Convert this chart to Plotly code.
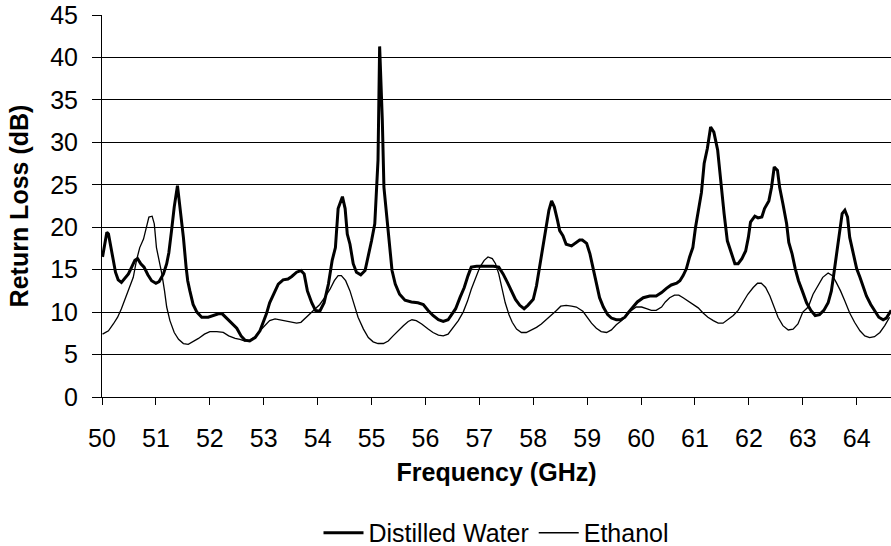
import plotly.graph_objects as go

# Return loss of the sensor loaded with distilled water (frequency in GHz, loss in dB)
water_freq = [
    50.01, 50.09, 50.12, 50.17, 50.21, 50.25, 50.30, 50.36, 50.43, 50.49, 50.55, 50.61,
    50.66, 50.72, 50.78, 50.85, 50.92, 51.00, 51.06, 51.14, 51.20, 51.24, 51.29, 51.34,
    51.40, 51.45, 51.51, 51.56, 51.59, 51.63, 51.69, 51.76, 51.85, 51.97, 52.06, 52.16,
    52.23, 52.31, 52.40, 52.50, 52.58, 52.65, 52.74, 52.84, 52.93, 52.99, 53.05, 53.11,
    53.19, 53.27, 53.36, 53.45, 53.52, 53.61, 53.69, 53.75, 53.81, 53.89, 53.96, 54.04,
    54.12, 54.20, 54.27, 54.33, 54.38, 54.46, 54.51, 54.55, 54.60, 54.66, 54.72, 54.80,
    54.88, 54.94, 55.00, 55.06, 55.09, 55.12, 55.15, 55.20, 55.23, 55.28, 55.34, 55.38,
    55.44, 55.52, 55.62, 55.74, 55.86, 55.96, 56.05, 56.14, 56.24, 56.33, 56.42, 56.48,
    56.56, 56.64, 56.72, 56.79, 56.85, 56.95, 57.10, 57.26, 57.36, 57.44, 57.52, 57.60,
    57.67, 57.75, 57.83, 57.90, 58.00, 58.06, 58.12, 58.18, 58.24, 58.29, 58.34, 58.39,
    58.45, 58.49, 58.55, 58.61, 58.71, 58.77, 58.86, 58.91, 58.99, 59.05, 59.11, 59.17,
    59.23, 59.30, 59.38, 59.45, 59.54, 59.62, 59.70, 59.77, 59.85, 59.93, 60.04, 60.16,
    60.28, 60.38, 60.47, 60.56, 60.66, 60.72, 60.78, 60.84, 60.90, 60.96, 61.01, 61.06,
    61.12, 61.17, 61.23, 61.29, 61.35, 61.42, 61.48, 61.54, 61.60, 61.68, 61.74, 61.80,
    61.87, 61.94, 61.99, 62.03, 62.11, 62.17, 62.24, 62.29, 62.37, 62.42, 62.47, 62.53,
    62.57, 62.63, 62.70, 62.74, 62.80, 62.86, 62.92, 62.99, 63.07, 63.15, 63.23, 63.31,
    63.39, 63.47, 63.53, 63.58, 63.62, 63.68, 63.73, 63.78, 63.83, 63.87, 63.93, 64.00,
    64.06, 64.12, 64.18, 64.26, 64.33, 64.41, 64.49, 64.55, 64.64,
]
water_loss = [
    16.5, 19.4, 19.2, 17.2, 16.1, 14.7, 13.8, 13.5, 14.1, 14.5, 15.3, 16.1,
    16.3, 15.7, 15.3, 14.4, 13.7, 13.4, 13.6, 14.5, 15.7, 17.0, 19.6, 22.4,
    24.9, 22.4, 18.8, 15.3, 13.7, 12.5, 10.9, 10.0, 9.4, 9.4, 9.6, 9.8,
    9.8, 9.3, 8.8, 8.1, 7.2, 6.7, 6.6, 7.0, 7.8, 8.7, 9.8, 11.1,
    12.3, 13.3, 13.8, 13.9, 14.2, 14.7, 14.9, 14.5, 12.5, 11.1, 10.2, 10.1,
    11.1, 13.3, 16.1, 17.6, 22.2, 23.6, 22.2, 19.2, 18.0, 15.7, 14.7, 14.4,
    14.9, 16.5, 18.4, 20.4, 23.5, 27.9, 41.3, 32.6, 24.7, 21.2, 17.6, 14.9,
    13.3, 12.1, 11.4, 11.2, 11.1, 10.9, 10.2, 9.6, 9.1, 8.9, 9.1, 9.6,
    10.4, 11.7, 12.9, 14.3, 15.3, 15.4, 15.4, 15.4, 15.3, 14.5, 13.5, 12.5,
    11.5, 10.8, 10.4, 10.8, 11.5, 13.1, 15.3, 17.6, 19.8, 22.0, 23.1, 22.4,
    20.8, 19.6, 19.0, 18.0, 17.8, 18.1, 18.5, 18.5, 18.1, 16.9, 15.1, 13.3,
    11.7, 10.6, 9.7, 9.3, 9.1, 9.1, 9.4, 10.0, 10.6, 11.2, 11.7, 11.9,
    11.9, 12.3, 12.8, 13.2, 13.4, 13.7, 14.3, 15.1, 16.5, 17.6, 20.0, 21.8,
    24.1, 27.5, 29.3, 31.8, 31.2, 29.1, 24.9, 21.6, 18.4, 16.9, 15.7, 15.7,
    16.3, 17.2, 18.8, 20.6, 21.3, 21.1, 21.2, 22.2, 23.1, 24.7, 27.1, 26.7,
    24.7, 22.8, 20.4, 18.2, 16.9, 15.1, 13.7, 12.5, 11.1, 10.2, 9.6, 9.7,
    10.2, 11.1, 12.5, 14.7, 16.5, 18.8, 21.6, 22.0, 21.2, 18.8, 17.2, 15.1,
    14.1, 12.9, 11.9, 10.9, 10.2, 9.4, 9.1, 9.3, 10.2,
]

# Return loss of the sensor loaded with ethanol
ethanol_freq = [
    50.01, 50.12, 50.21, 50.29, 50.36, 50.44, 50.52, 50.58, 50.64, 50.70, 50.77, 50.83,
    50.87, 50.93, 50.97, 51.01, 51.06, 51.11, 51.16, 51.20, 51.26, 51.34, 51.42, 51.51,
    51.60, 51.69, 51.79, 51.90, 52.00, 52.13, 52.25, 52.35, 52.47, 52.56, 52.65, 52.74,
    52.84, 52.93, 53.02, 53.11, 53.21, 53.30, 53.39, 53.49, 53.61, 53.69, 53.76, 53.86,
    53.95, 54.04, 54.13, 54.23, 54.31, 54.38, 54.44, 54.52, 54.60, 54.68, 54.75, 54.85,
    54.94, 55.03, 55.12, 55.22, 55.31, 55.40, 55.49, 55.59, 55.68, 55.75, 55.83, 55.93,
    56.05, 56.14, 56.24, 56.33, 56.42, 56.51, 56.61, 56.70, 56.78, 56.85, 56.93, 57.01,
    57.09, 57.16, 57.24, 57.30, 57.36, 57.42, 57.48, 57.55, 57.61, 57.69, 57.78, 57.87,
    57.97, 58.06, 58.15, 58.24, 58.34, 58.43, 58.51, 58.61, 58.71, 58.80, 58.92, 59.00,
    59.08, 59.17, 59.26, 59.36, 59.45, 59.54, 59.64, 59.73, 59.82, 59.91, 60.01, 60.10,
    60.19, 60.28, 60.38, 60.45, 60.53, 60.62, 60.70, 60.78, 60.87, 60.96, 61.06, 61.15,
    61.24, 61.34, 61.43, 61.52, 61.61, 61.71, 61.80, 61.89, 61.98, 62.08, 62.16, 62.23,
    62.31, 62.39, 62.47, 62.54, 62.63, 62.73, 62.82, 62.91, 63.00, 63.10, 63.19, 63.28,
    63.37, 63.47, 63.55, 63.62, 63.70, 63.78, 63.87, 63.96, 64.06, 64.15, 64.24, 64.33,
    64.43, 64.52, 64.61,
]
ethanol_loss = [
    7.4, 7.8, 8.6, 9.4, 10.4, 11.7, 12.9, 14.1, 16.1, 17.6, 18.6, 20.0,
    21.2, 21.3, 20.4, 17.6, 16.1, 14.5, 12.5, 10.6, 9.0, 7.6, 6.8, 6.3,
    6.2, 6.5, 6.9, 7.4, 7.7, 7.7, 7.6, 7.2, 6.9, 6.8, 6.6, 6.7,
    7.1, 7.8, 8.4, 9.0, 9.2, 9.1, 9.0, 8.8, 8.7, 8.8, 9.2, 9.8,
    10.4, 10.9, 11.7, 12.7, 13.7, 14.3, 14.3, 13.7, 12.5, 10.7, 9.4, 8.0,
    7.0, 6.5, 6.3, 6.3, 6.6, 7.2, 7.8, 8.4, 8.9, 9.1, 9.0, 8.6,
    8.0, 7.6, 7.3, 7.2, 7.4, 8.1, 9.0, 10.0, 11.3, 12.7, 14.1, 15.3,
    16.1, 16.5, 16.3, 15.7, 14.5, 12.9, 11.1, 9.7, 8.8, 8.0, 7.6, 7.6,
    7.9, 8.2, 8.6, 9.1, 9.6, 10.2, 10.7, 10.8, 10.7, 10.6, 10.1, 9.4,
    8.7, 8.1, 7.7, 7.6, 7.9, 8.5, 9.0, 9.6, 10.2, 10.6, 10.6, 10.4,
    10.2, 10.2, 10.6, 11.2, 11.7, 12.0, 12.0, 11.7, 11.3, 10.9, 10.5, 9.9,
    9.4, 9.0, 8.7, 8.7, 9.1, 9.6, 10.2, 11.1, 12.1, 12.9, 13.4, 13.4,
    12.9, 11.9, 10.6, 9.4, 8.4, 7.9, 8.0, 8.6, 10.0, 10.6, 12.1, 13.1,
    14.1, 14.6, 14.3, 13.5, 12.5, 11.3, 9.9, 8.8, 7.8, 7.2, 7.0, 7.1,
    7.6, 8.4, 9.4,
]

y_ticks = [0, 5, 10, 15, 20, 25, 30, 35, 40, 45]
x_ticks = list(range(50, 65))

FONT = "Liberation Sans, Arial, sans-serif"

fig = go.Figure()
fig.add_trace(go.Scatter(
    x=water_freq, y=water_loss, mode="lines", name="Distilled Water",
    line=dict(color="black", width=3),
))
fig.add_trace(go.Scatter(
    x=ethanol_freq, y=ethanol_loss, mode="lines", name="Ethanol",
    line=dict(color="black", width=1.3),
))

fig.update_layout(
    width=891, height=546,
    margin=dict(l=102, r=0, t=15, b=149, autoexpand=False),
    paper_bgcolor="white", plot_bgcolor="white",
    font=dict(family=FONT, size=25, color="black"),
    showlegend=True,
    legend=dict(
        orientation="h", x=0.5, xanchor="center", y=-0.356, yanchor="middle",
        font=dict(size=25), itemwidth=40, traceorder="normal",
        bgcolor="rgba(0,0,0,0)",
    ),
)
fig.update_xaxes(
    range=[50, 64.636], tickvals=x_ticks, ticktext=[str(v) for v in x_ticks],
    showgrid=False, zeroline=False,
    showline=True, linecolor="black", linewidth=1,
    ticks="outside", ticklen=7, tickcolor="black", tickwidth=1,
    tickfont=dict(size=25), ticklabelstandoff=12,
    title=dict(text="<b>Frequency (GHz)</b>", font=dict(size=25), standoff=12),
)
fig.update_yaxes(
    range=[0, 45], tickvals=y_ticks,
    showgrid=True, gridcolor="black", gridwidth=1, zeroline=False,
    showline=True, linecolor="black", linewidth=1,
    ticks="outside", ticklen=9, tickcolor="black", tickwidth=1,
    tickfont=dict(size=25), ticklabelstandoff=9,
    title=dict(text="<b>Return Loss (dB)</b>", font=dict(size=25), standoff=14),
)

fig.write_html("out.html")
